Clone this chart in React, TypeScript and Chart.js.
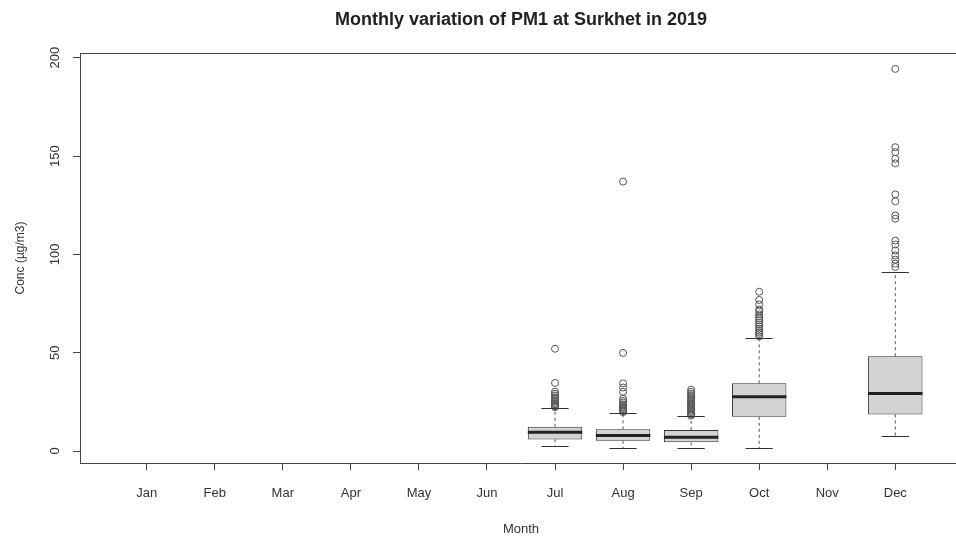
import React, { useEffect, useRef } from 'react';
import { Chart, registerables } from 'chart.js';

Chart.register(...registerables);

const months = ['Jan', 'Feb', 'Mar', 'Apr', 'May', 'Jun', 'Jul', 'Aug', 'Sep', 'Oct', 'Nov', 'Dec'];
const yTicks = [0, 50, 100, 150, 200];

// box statistics for months that have data (month index 1..12)
const boxMonths = [7, 8, 9, 10, 12];
const whiskerLow = [2.4, 1.4, 1.4, 1.4, 7.6];
const q1 = [5.9, 5.2, 4.4, 17.4, 18.6];
const medians = [9.5, 7.9, 7.0, 27.6, 29.3];
const q3 = [12.3, 11.0, 10.7, 34.4, 48.2];
const whiskerHigh = [21.8, 19.4, 17.6, 57.5, 91.0];

const outliersJul = [22.3, 22.8, 23.3, 23.8, 24.4, 25.1, 25.8, 26.6, 27.3, 28.2, 29.1, 30.2, 34.6, 52.0];
const outliersAug = [19.8, 20.3, 20.8, 21.3, 21.9, 22.4, 23.1, 23.7, 24.6, 25.5, 26.6, 30.1, 32.3, 34.4, 49.9, 137.0];
const outliersSep = [18.0, 18.6, 19.1, 19.8, 20.4, 21.0, 21.7, 22.2, 22.9, 23.4, 24.1, 24.7, 25.5, 26.1, 26.9, 27.5, 28.4, 29.2, 30.1, 31.2];
const outliersOct = [58.3, 59.4, 60.2, 61.1, 62.2, 63.2, 64.3, 65.2, 66.5, 67.4, 68.5, 69.5, 71.0, 72.0, 74.5, 76.8, 81.0];
const outliersDec = [93.6, 95.3, 97.3, 99.5, 102.0, 105.0, 107.0, 118.1, 119.8, 127.0, 130.5, 146.3, 148.6, 152.0, 154.5, 194.3];

const outlierLists = [outliersJul, outliersAug, outliersSep, outliersOct, outliersDec];

const FONT = "'Liberation Sans', Arial, sans-serif";
const LINE = '#444';
const TEXT = '#333';

const boxExtras = {
  id: 'boxExtras',
  afterDatasetsDraw(chart: any) {
    const { ctx, scales } = chart;
    const x = scales.x;
    const y = scales.y;
    const meta = chart.getDatasetMeta(0);
    ctx.save();
    boxMonths.forEach((m, i) => {
      const el: any = meta.data[i];
      const half = el && el.width ? el.width / 2 : 27;
      const cx = x.getPixelForValue(m);
      // whiskers (dashed)
      ctx.strokeStyle = '#555';
      ctx.lineWidth = 1;
      ctx.setLineDash([3, 3]);
      ctx.beginPath();
      ctx.moveTo(cx, y.getPixelForValue(q3[i]));
      ctx.lineTo(cx, y.getPixelForValue(whiskerHigh[i]));
      ctx.moveTo(cx, y.getPixelForValue(q1[i]));
      ctx.lineTo(cx, y.getPixelForValue(whiskerLow[i]));
      ctx.stroke();
      ctx.setLineDash([]);
      // staples
      ctx.strokeStyle = '#333';
      ctx.beginPath();
      const sh = half / 2;
      const yh = Math.round(y.getPixelForValue(whiskerHigh[i])) + 0.5;
      const yl = Math.round(y.getPixelForValue(whiskerLow[i])) + 0.5;
      ctx.moveTo(cx - sh, yh);
      ctx.lineTo(cx + sh, yh);
      ctx.moveTo(cx - sh, yl);
      ctx.lineTo(cx + sh, yl);
      ctx.stroke();
      // median
      ctx.strokeStyle = '#222';
      ctx.lineWidth = 3;
      ctx.beginPath();
      const ym = y.getPixelForValue(medians[i]);
      ctx.moveTo(cx - half, ym);
      ctx.lineTo(cx + half, ym);
      ctx.stroke();
    });
    ctx.restore();
  },
  afterDraw(chart: any) {
    const { ctx, chartArea } = chart;
    ctx.save();
    ctx.strokeStyle = LINE;
    ctx.lineWidth = 1;
    ctx.beginPath();
    const l = Math.round(chartArea.left) + 0.5;
    const r = Math.round(chartArea.right) - 0.5;
    const t = Math.round(chartArea.top) + 0.5;
    const b = Math.round(chartArea.bottom) - 0.5;
    ctx.moveTo(l, t);
    ctx.lineTo(r, t);
    ctx.lineTo(r, b);
    ctx.stroke();
    ctx.restore();
  },
};

export default function App() {
  const ref = useRef<HTMLCanvasElement | null>(null);

  useEffect(() => {
    if (!ref.current) return;
    Chart.defaults.font.family = FONT;
    const boxData = boxMonths.map((m, i) => ({ x: m, y: [q1[i], q3[i]] }));
    const outlierData: { x: number; y: number }[] = [];
    boxMonths.forEach((m, i) => {
      outlierLists[i].forEach((v) => outlierData.push({ x: m, y: v }));
    });

    const chart = new Chart(ref.current, {
      type: 'bar',
      data: {
        datasets: [
          {
            type: 'bar',
            label: 'box',
            data: boxData as any,
            backgroundColor: '#D3D3D3',
            borderColor: '#333',
            borderWidth: 1,
            borderSkipped: false,
            categoryPercentage: 0.8,
            barPercentage: 1,
          } as any,
          {
            type: 'scatter',
            label: 'outliers',
            data: outlierData as any,
            pointStyle: 'circle',
            pointRadius: 3.5,
            pointBorderWidth: 1,
            borderColor: '#555',
            backgroundColor: 'rgba(0,0,0,0)',
            showLine: false,
          } as any,
        ],
      },
      options: {
        responsive: false,
        animation: false,
        layout: { padding: { left: 0, right: 8, top: 0, bottom: 0 } },
        plugins: {
          legend: { display: false },
          tooltip: { enabled: false },
          title: {
            display: true,
            fullSize: false,
            text: 'Monthly variation of PM1 at Surkhet in 2019',
            color: '#222',
            font: { family: FONT, size: 18, weight: 'bold' },
            padding: { top: 9, bottom: 22.4 },
          },
        },
        scales: {
          x: {
            type: 'linear',
            min: 0.02,
            max: 12.98,
            offset: false,
            afterBuildTicks: (s: any) => {
              s.ticks = months.map((_, i) => ({ value: i + 1 }));
            },
            ticks: {
              autoSkip: false,
              maxRotation: 0,
              minRotation: 0,
              padding: 16,
              color: TEXT,
              font: { family: FONT, size: 13 },
              callback: (v: any) => months[Math.round(Number(v)) - 1] ?? '',
            },
            grid: {
              display: true,
              offset: false,
              drawOnChartArea: false,
              drawTicks: true,
              tickLength: 7,
              tickColor: LINE,
            },
            border: { display: true, color: LINE },
            title: {
              display: true,
              text: 'Month',
              color: TEXT,
              font: { family: FONT, size: 13 },
              padding: { top: 3.6, bottom: 2.2 },
            },
          },
          y: {
            type: 'linear',
            min: -6.1,
            max: 202.4,
            afterBuildTicks: (s: any) => {
              s.ticks = yTicks.map((v) => ({ value: v }));
            },
            ticks: {
              minRotation: 90,
              maxRotation: 90,
              crossAlign: 'center',
              padding: 7,
              color: TEXT,
              font: { family: FONT, size: 13 },
              callback: (v: any) => String(v),
            },
            grid: {
              display: true,
              drawOnChartArea: false,
              drawTicks: true,
              tickLength: 7,
              tickColor: LINE,
            },
            border: { display: true, color: LINE },
            title: {
              display: true,
              text: 'Conc (µg/m3)',
              color: TEXT,
              font: { family: FONT, size: 12 },
              padding: { top: 13.8, bottom: 15.2 },
            },
          },
        },
      } as any,
      plugins: [boxExtras],
    });
    return () => chart.destroy();
  }, []);

  return (
    <div style={{ position: 'fixed', left: 0, top: 0, width: 956, height: 539, overflow: 'hidden', background: '#fff' }}>
      <canvas ref={ref} width={970} height={539} style={{ display: 'block' }} />
    </div>
  );
}
